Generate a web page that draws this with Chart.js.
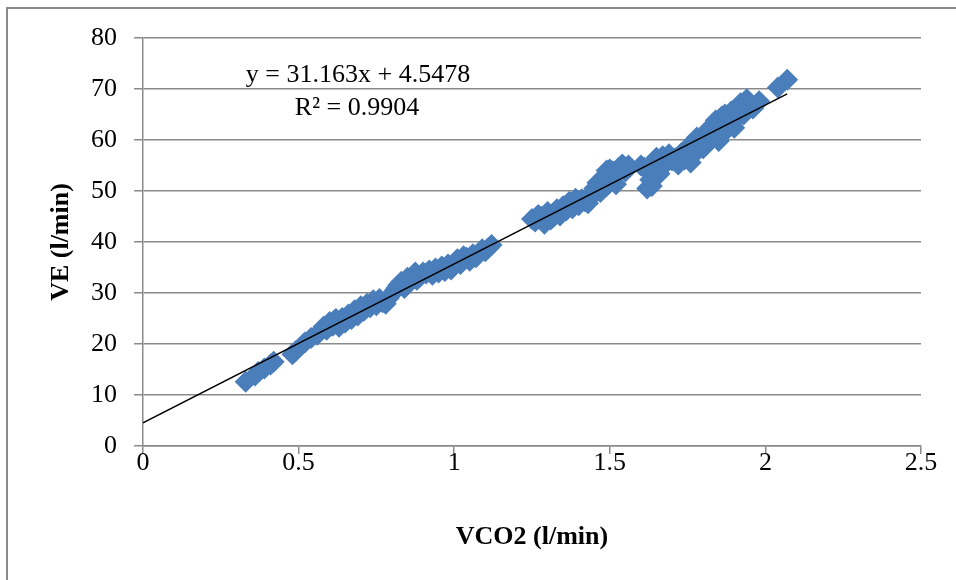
<!DOCTYPE html>
<html>
<head>
<meta charset="utf-8">
<script src="https://cdn.jsdelivr.net/npm/chart.js@4.4.1/dist/chart.umd.min.js"></script>
<style>
  html, body { margin: 0; padding: 0; background: #fff; }
</style>
</head>
<body>
<canvas id="scatterchart" width="956" height="580"></canvas>
<script>
// VCO2 (l/min) readings
const vco2 = [
  0.33, 0.36, 0.37, 0.39, 0.41, 0.42, 0.48, 0.49, 0.52, 0.54,
  0.56, 0.57, 0.58, 0.59, 0.60, 0.61, 0.615, 0.62, 0.63, 0.64,
  0.65, 0.655, 0.66, 0.67, 0.68, 0.69, 0.695, 0.70, 0.71, 0.72,
  0.73, 0.74, 0.75, 0.76, 0.77, 0.78, 0.79, 0.80, 0.81, 0.815,
  0.82, 0.83, 0.84, 0.85, 0.855, 0.86, 0.87, 0.875, 0.88, 0.89,
  0.90, 0.91, 0.92, 0.93, 0.94, 0.95, 0.96, 0.97, 0.98, 0.99,
  1.00, 1.01, 1.02, 1.03, 1.04, 1.05, 1.06, 1.07, 1.08, 1.09,
  1.10, 1.11, 1.12, 1.25, 1.26, 1.27, 1.28, 1.29, 1.30, 1.31,
  1.32, 1.33, 1.34, 1.35, 1.36, 1.37, 1.38, 1.39, 1.40, 1.41,
  1.42, 1.43, 1.44, 1.45, 1.46, 1.46, 1.47, 1.48, 1.49, 1.49,
  1.50, 1.50, 1.51, 1.52, 1.53, 1.54, 1.55, 1.56, 1.60, 1.61,
  1.62, 1.63, 1.635, 1.64, 1.65, 1.66, 1.66, 1.67, 1.68, 1.69,
  1.70, 1.71, 1.72, 1.73, 1.74, 1.75, 1.76, 1.77, 1.78, 1.78,
  1.79, 1.80, 1.81, 1.82, 1.82, 1.83, 1.84, 1.85, 1.85, 1.86,
  1.87, 1.87, 1.88, 1.89, 1.90, 1.90, 1.91, 1.92, 1.93, 1.94,
  1.95, 1.96, 1.98, 2.04, 2.07
];

// VE (l/min) readings, same order as vco2
const ve = [
  12.6, 13.8, 14.5, 15.2, 16.0, 16.5, 18.0, 18.6, 20.3, 21.2,
  21.8, 22.6, 23.4, 22.8, 24.3, 23.6, 24.6, 24.9, 23.4, 25.1,
  24.2, 25.0, 25.8, 24.9, 26.6, 25.6, 26.8, 27.4, 26.5, 27.9,
  27.2, 28.6, 27.6, 28.8, 28.2, 27.9, 29.0, 29.8, 30.6, 31.0,
  31.5, 32.2, 31.0, 33.0, 32.2, 32.4, 33.6, 34.0, 32.6, 33.2,
  34.0, 33.8, 34.4, 33.6, 34.8, 34.0, 35.2, 34.3, 35.6, 34.6,
  35.8, 36.6, 35.7, 37.2, 36.9, 36.3, 37.6, 37.0, 37.9, 38.6,
  38.2, 38.8, 39.4, 44.5, 44.0, 45.3, 44.9, 43.6, 45.9, 44.4,
  45.0, 46.4, 45.2, 47.0, 46.2, 47.9, 46.6, 48.5, 47.2, 48.4,
  48.0, 47.6, 49.3, 50.5, 51.6, 50.0, 49.8, 52.5, 54.0, 51.0,
  52.8, 54.2, 53.8, 51.3, 54.6, 55.2, 53.8, 55.0, 55.0, 54.6,
  50.5, 52.2, 51.0, 55.5, 56.5, 53.4, 55.0, 56.8, 55.4, 57.2,
  56.0, 56.4, 55.2, 57.4, 56.2, 58.6, 55.6, 59.6, 57.8, 60.5,
  60.2, 58.4, 59.0, 62.3, 60.0, 60.5, 63.8, 59.8, 63.0, 64.6,
  61.6, 65.0, 62.8, 65.6, 63.8, 62.4, 66.4, 67.2, 65.0, 68.0,
  66.8, 66.2, 67.6, 70.3, 71.8
];

// linear trendline coefficients
const slope = 31.163;
const intercept = 4.5478;
const rSquared = "0.9904";

const xTickLabels = ["0", "0.5", "1", "1.5", "2", "2.5"];
const yTickLabels = ["0", "10", "20", "30", "40", "50", "60", "70", "80"];

const points = vco2.map((x, i) => ({ x: x, y: ve[i] }));
const xMax = Math.max(...vco2);
const trend = [
  { x: 0, y: intercept },
  { x: xMax, y: slope * xMax + intercept },
];

const serif = "'Liberation Serif', 'Times New Roman', serif";
const gridGray = "#8a8a8a";

// outer frame and the trendline equation
const decorations = {
  id: "decorations",
  beforeDraw(chart) {
    const ctx = chart.ctx;
    ctx.save();
    ctx.fillStyle = "#fff";
    ctx.fillRect(0, 0, chart.width, chart.height);
    ctx.strokeStyle = gridGray;
    ctx.lineWidth = 2;
    ctx.strokeRect(7, 8, chart.width + 20, chart.height + 20);
    ctx.restore();
  },
  afterDatasetsDraw(chart) {
    const ctx = chart.ctx;
    const area = chart.chartArea;
    ctx.save();
    ctx.fillStyle = "#000";
    ctx.font = "26px " + serif;
    ctx.textAlign = "center";
    ctx.textBaseline = "alphabetic";
    ctx.fillText("y = " + slope + "x + " + intercept, area.left + 215, area.top + 44);
    ctx.fillText("R\u00b2 = " + rSquared, area.left + 214, area.top + 77);
    ctx.restore();
  },
};

const sctx = document.getElementById("scatterchart");

new Chart(sctx, {
  type: "scatter",
  data: {
    datasets: [
      {
        type: "line",
        label: "Linear (VE)",
        data: trend,
        borderColor: "#000",
        borderWidth: 1.5,
        pointRadius: 0,
        fill: false,
        order: 0,
      },
      {
        label: "VE",
        data: points,
        pointStyle: "rectRot",
        pointRadius: 11,
        pointBorderWidth: 0,
        backgroundColor: "#4a7ebb",
        borderColor: "#4a7ebb",
        order: 1,
      },
    ],
  },
  options: {
    responsive: false,
    animation: false,
    devicePixelRatio: 1,
    layout: {
      padding: { left: 0, top: 38, right: 35, bottom: 0 },
    },
    plugins: {
      legend: { display: false },
      tooltip: { enabled: false },
    },
    scales: {
      x: {
        type: "linear",
        min: 0,
        max: 2.5,
        ticks: {
          stepSize: 0.5,
          color: "#000",
          padding: -4,
          font: { family: serif, size: 26, lineHeight: 1 },
          callback: (value, index) => xTickLabels[index],
        },
        grid: {
          drawOnChartArea: false,
          color: gridGray,
          lineWidth: 1.5,
          tickLength: 8,
        },
        border: { color: gridGray, width: 1.5 },
        title: {
          display: true,
          text: "VCO2 (l/min)",
          color: "#000",
          font: { family: serif, size: 26, weight: "bold" },
          padding: { top: 0, bottom: 27 },
        },
        afterFit(scale) {
          scale.height = 134;
        },
      },
      y: {
        type: "linear",
        min: 0,
        max: 80,
        ticks: {
          stepSize: 10,
          color: "#000",
          padding: 17,
          font: { family: serif, size: 26 },
          callback: (value, index) => yTickLabels[index],
        },
        grid: {
          color: gridGray,
          lineWidth: 1.5,
          tickLength: 9,
        },
        border: { color: gridGray, width: 1.5 },
        title: {
          display: true,
          text: "VE (l/min)",
          color: "#000",
          font: { family: serif, size: 26, weight: "bold" },
          padding: { top: 46, bottom: 0 },
        },
        afterFit(scale) {
          scale.width = 143;
        },
      },
    },
  },
  plugins: [decorations],
});
</script>
</body>
</html>
